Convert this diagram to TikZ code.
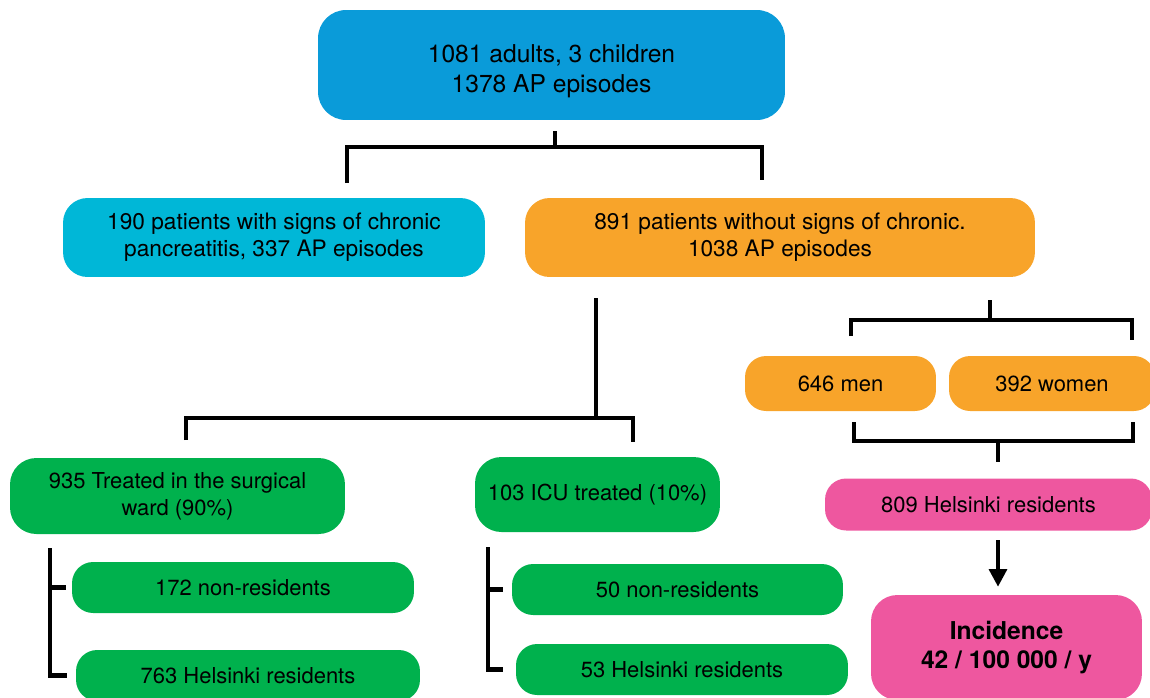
\documentclass[tikz,border=0pt]{standalone}
\usepackage{fontspec}
\setmainfont{TeX Gyre Heros}
\usetikzlibrary{arrows.meta}
\definecolor{topblue}{HTML}{0A9BD9}
\definecolor{cyanbox}{HTML}{00B7D7}
\definecolor{orangebox}{HTML}{F8A42A}
\definecolor{greenbox}{HTML}{00B14D}
\definecolor{pinkbox}{HTML}{EE579F}
\tikzstyle{box}=[rounded corners=12pt, align=center, inner sep=0pt, font=\fontsize{12.5}{15.3}\selectfont]
\tikzstyle{brk}=[line width=2.3pt]

\begin{document}
\begin{tikzpicture}[x=0.02cm, y=-0.02cm]
	\useasboundingbox (0,0) rectangle (1150,697);
	% boxes
	\node[box, fill=topblue, minimum width=9.34cm, minimum height=2.2cm, rounded corners=16pt, font=\fontsize{14}{17}\selectfont] (0) at (551.5,65) {\rule{0pt}{17pt}1081 adults, 3 children\\1378 AP episodes};
	\node[box, fill=cyanbox, minimum width=8.44cm, minimum height=1.58cm, rounded corners=14pt, font=\fontsize{12.9}{15.3}\selectfont] (1) at (274,237.5) {190 patients with signs of chronic\\pancreatitis, 337 AP episodes};
	\node[box, fill=orangebox, minimum width=10.2cm, minimum height=1.58cm, rounded corners=14pt, font=\fontsize{12.9}{15.3}\selectfont] (2) at (780,237.5) {891 patients without signs of chronic.\\1038 AP episodes};
	\node[box, fill=greenbox, minimum width=6.7cm, minimum height=1.52cm, rounded corners=15pt] (3) at (177.5,496) {935 Treated in the surgical\\ward (90\%)};
	\node[box, fill=greenbox, minimum width=4.9cm, minimum height=1.5cm, rounded corners=15pt] (4) at (597.5,494.5) {103 ICU treated (10\%)};
	\node[box, fill=greenbox, minimum width=6.84cm, minimum height=1.02cm] (5) at (243,587.5) {172 non-residents};
	\node[box, fill=greenbox, minimum width=6.88cm, minimum height=1.02cm] (6) at (248,675.5) {763 Helsinki residents};
	\node[box, fill=greenbox, minimum width=6.62cm, minimum height=1.02cm] (7) at (677.5,589.5) {50 non-residents};
	\node[box, fill=greenbox, minimum width=6.64cm, minimum height=1.02cm] (8) at (682,669.5) {53 Helsinki residents};
	\node[box, fill=orangebox, minimum width=3.82cm, minimum height=1.1cm] (9) at (840.5,383.5) {646 men};
	\node[box, fill=orangebox, minimum width=4.12cm, minimum height=1.1cm] (10) at (1052,383.5) {392 women};
	\node[box, fill=pinkbox, minimum width=6.54cm, minimum height=1.04cm] (11) at (988.5,504.5) {809 Helsinki residents};
	\node[box, fill=pinkbox, minimum width=5.42cm, minimum height=2.1cm, rounded corners=15pt, font=\fontsize{14}{17}\selectfont\bfseries] (12) at (1006.5,647.5) {Incidence\\42 / 100 000 / y};
	% bracket ends
	\coordinate (s0) at (555,131);
	\coordinate (b0) at (555,147);
	\coordinate (l0) at (347,183);
	\coordinate (r0) at (762,180);
	\coordinate (s1) at (596,298);
	\coordinate (b1) at (596,418);
	\coordinate (l1) at (186,440);
	\coordinate (r1) at (633,442);
	\coordinate (s2) at (990,300);
	\coordinate (b2) at (990,320);
	\coordinate (l2) at (851,336);
	\coordinate (r2) at (1132,340);
	\coordinate (l3) at (854,422);
	\coordinate (r3) at (1133,422);
	\coordinate (b3) at (998,441);
	\coordinate (s3) at (998,462);
	\coordinate (v0) at (50,548);
	\coordinate (v1) at (488,547);
	\coordinate (s4) at (998,540);
	% brackets
	\draw[brk] (s0) -- (b0);
	\draw[brk] (l0) |- (b0) -| (r0);
	\draw[brk] (s1) -- (b1);
	\draw[brk] (l1) |- (b1) -| (r1);
	\draw[brk] (s2) -- (b2);
	\draw[brk] (l2) |- (b2) -| (r2);
	\draw[brk] (l3) |- (b3) -| (r3);
	\draw[brk] (b3) -- (s3);
	\draw[brk, shorten >=5pt] (v0) |- (6.west);
	\draw[brk, shorten >=3pt] (v0 |- 5.west) -- (5.west);
	\draw[brk, shorten >=7pt] (v1) |- (8.west);
	\draw[brk, shorten >=5pt] (v1 |- 7.west) -- (7.west);
	\draw[brk, -{Triangle[width=10pt, length=10pt]}, shorten >=4.5pt] (s4) -- (s4 |- 12.north);
\end{tikzpicture}
\end{document}
